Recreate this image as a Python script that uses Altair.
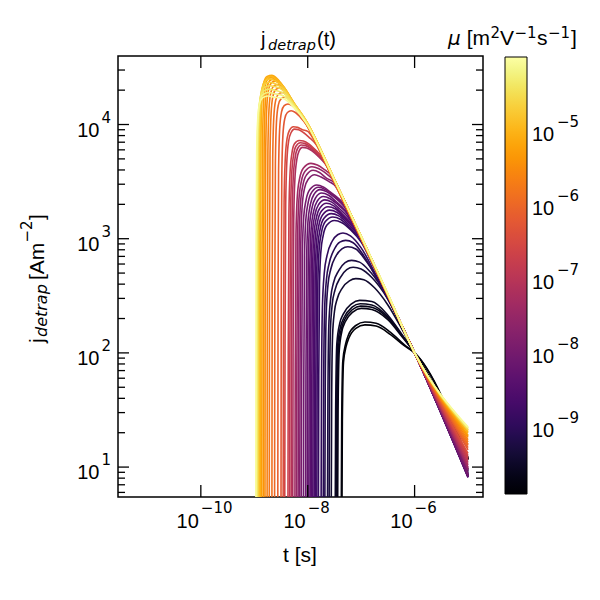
import altair as alt
import pandas as pd

# ---------------- axis ranges / ticks ----------------
X_DOMAIN = [10 ** -11.55, 10 ** -4.72]
Y_DOMAIN = [10 ** 0.738, 10 ** 4.6]
MU_DOMAIN = [1.17e-10, 9.4e-5]

X_TICKS = [1e-10, 1e-8, 1e-6]
X_TICK_EXP = ["\u221210", "\u22128", "\u22126"]
Y_TICKS = [10, 100, 1000, 10000]
Y_TICK_EXP = ["1", "2", "3", "4"]
Y_MINOR = [6, 7, 8, 9, 20, 30, 40, 50, 60, 70, 80, 90,
           200, 300, 400, 500, 600, 700, 800, 900,
           2000, 3000, 4000, 5000, 6000, 7000, 8000, 9000, 20000, 30000]
MU_TICKS = [1e-9, 1e-8, 1e-7, 1e-6, 1e-5]
MU_TICK_EXP = ["\u22129", "\u22128", "\u22127", "\u22126", "\u22125"]
MU_MINOR = [m * 10.0 ** e for e in (-10, -9, -8, -7, -6, -5) for m in (2, 3, 4, 5, 6, 7, 8, 9)]

# ---------------- curves: (log10 mu, [(log10 t, log10 j), ...]) ----------------
BLACK = [
    (-9.90, [(-7.36, 0.6), (-7.352, 1.4), (-7.33, 1.92), (-7.28, 2.06), (-7.23, 2.13), (-7.1, 2.215), (-6.93, 2.245), (-6.72, 2.235), (-6.45, 2.16), (-6.2, 2.065), (-6.0, 2.0), (-5.0, 1.06)]),
    (-9.83, [(-7.372, 0.6), (-7.364, 1.4), (-7.343, 1.93), (-7.29, 2.08), (-7.24, 2.155), (-7.1, 2.24), (-6.93, 2.27), (-6.72, 2.26), (-6.45, 2.18), (-6.2, 2.075), (-6.0, 2.0), (-5.0, 1.07)]),
    (-9.72, [(-7.44, 0.6), (-7.432, 1.5), (-7.41, 2.02), (-7.36, 2.19), (-7.3, 2.27), (-7.15, 2.36), (-7.0, 2.39), (-6.8, 2.38), (-6.5, 2.29), (-6.25, 2.15), (-6.0, 2.0), (-5.0, 1.08)]),
    (-9.68, [(-7.455, 0.6), (-7.447, 1.5), (-7.425, 2.04), (-7.37, 2.21), (-7.31, 2.29), (-7.16, 2.38), (-7.01, 2.41), (-6.8, 2.40), (-6.5, 2.305), (-6.25, 2.16), (-6.0, 2.0), (-5.0, 1.08)]),
    (-9.63, [(-7.47, 0.6), (-7.462, 1.5), (-7.44, 2.06), (-7.385, 2.23), (-7.32, 2.31), (-7.17, 2.40), (-7.02, 2.43), (-6.8, 2.42), (-6.5, 2.315), (-6.25, 2.165), (-6.0, 2.0), (-5.0, 1.075)]),
    (-9.57, [(-7.485, 0.6), (-7.477, 1.5), (-7.455, 2.08), (-7.4, 2.26), (-7.335, 2.34), (-7.18, 2.43), (-7.03, 2.46), (-6.8, 2.45), (-6.5, 2.33), (-6.25, 2.17), (-6.0, 2.0), (-5.0, 1.07)]),
]
DARK = [
    (-9.45, [(-7.56, 0.6), (-7.552, 1.6), (-7.535, 2.15), (-7.5, 2.36), (-7.45, 2.47), (-7.35, 2.57), (-7.22, 2.63), (-7.1, 2.65), (-6.95, 2.64), (-6.75, 2.57), (-6.5, 2.42), (-6.25, 2.22), (-6.0, 2.0), (-5.0, 0.98)]),
    (-9.36, [(-7.6, 0.6), (-7.592, 1.6), (-7.575, 2.2), (-7.54, 2.43), (-7.49, 2.55), (-7.39, 2.66), (-7.27, 2.73), (-7.15, 2.75), (-7.0, 2.735), (-6.8, 2.66), (-6.5, 2.47), (-6.25, 2.24), (-6.0, 2.0), (-5.0, 0.97)]),
    (-9.27, [(-7.63, 0.6), (-7.622, 1.6), (-7.605, 2.24), (-7.57, 2.48), (-7.52, 2.61), (-7.42, 2.72), (-7.3, 2.79), (-7.18, 2.81), (-7.03, 2.795), (-6.83, 2.71), (-6.5, 2.48), (-6.25, 2.245), (-6.0, 2.0), (-5.0, 0.96)]),
    (-9.18, [(-7.68, 0.6), (-7.672, 1.7), (-7.655, 2.33), (-7.62, 2.6), (-7.57, 2.73), (-7.47, 2.85), (-7.36, 2.91), (-7.25, 2.93), (-7.1, 2.91), (-6.9, 2.80), (-6.6, 2.57), (-6.3, 2.29), (-6.0, 2.0), (-5.0, 0.95)]),
    (-9.09, [(-7.71, 0.6), (-7.702, 1.7), (-7.685, 2.36), (-7.65, 2.64), (-7.6, 2.78), (-7.5, 2.91), (-7.4, 2.97), (-7.29, 2.985), (-7.15, 2.965), (-6.95, 2.85), (-6.65, 2.6), (-6.3, 2.295), (-6.0, 2.0), (-5.0, 0.94)]),
    (-9.00, [(-7.75, 0.6), (-7.742, 1.7), (-7.725, 2.4), (-7.69, 2.7), (-7.64, 2.85), (-7.54, 2.98), (-7.44, 3.035), (-7.34, 3.05), (-7.2, 3.025), (-7.0, 2.92), (-6.7, 2.66), (-6.35, 2.34), (-6.0, 2.0), (-5.0, 0.93)]),
]
PURPLE = [
    (-8.93, [(-7.80, 0.6), (-7.793, 1.8), (-7.78, 2.6), (-7.755, 2.88), (-7.71, 3.03), (-7.64, 3.12), (-7.50, 3.16), (-7.36, 3.14), (-7.2, 3.08), (-7.0, 2.97), (-6.75, 2.74), (-6.5, 2.5), (-6.25, 2.25), (-6.0, 2.0), (-5.0, 0.93)]),
    (-8.85, [(-7.83, 0.6), (-7.823, 1.8), (-7.81, 2.62), (-7.785, 2.91), (-7.74, 3.06), (-7.67, 3.15), (-7.53, 3.19), (-7.39, 3.17), (-7.22, 3.1), (-7.0, 2.985), (-6.75, 2.75), (-6.5, 2.5), (-6.25, 2.25), (-6.0, 2.0), (-5.0, 0.925)]),
    (-8.77, [(-7.855, 0.6), (-7.848, 1.8), (-7.835, 2.65), (-7.81, 2.94), (-7.765, 3.09), (-7.695, 3.18), (-7.56, 3.22), (-7.42, 3.2), (-7.25, 3.13), (-7.05, 3.03), (-6.8, 2.8), (-6.5, 2.505), (-6.25, 2.25), (-6.0, 2.0), (-5.0, 0.92)]),
    (-8.68, [(-7.88, 0.6), (-7.873, 1.8), (-7.86, 2.67), (-7.835, 2.97), (-7.79, 3.12), (-7.72, 3.21), (-7.59, 3.25), (-7.45, 3.23), (-7.28, 3.16), (-7.1, 3.07), (-6.85, 2.85), (-6.5, 2.505), (-6.25, 2.25), (-6.0, 2.0), (-5.0, 0.915)]),
    (-8.60, [(-7.905, 0.6), (-7.898, 1.8), (-7.885, 2.7), (-7.86, 3.0), (-7.815, 3.15), (-7.745, 3.24), (-7.62, 3.28), (-7.48, 3.26), (-7.32, 3.19), (-7.15, 3.11), (-6.9, 2.9), (-6.5, 2.505), (-6.25, 2.25), (-6.0, 2.0), (-5.0, 0.915)]),
    (-8.51, [(-7.93, 0.6), (-7.923, 1.8), (-7.91, 2.72), (-7.885, 3.03), (-7.84, 3.18), (-7.77, 3.27), (-7.65, 3.31), (-7.52, 3.29), (-7.36, 3.22), (-7.2, 3.14), (-6.95, 2.95), (-6.5, 2.505), (-6.25, 2.25), (-6.0, 2.0), (-5.0, 0.91)]),
    (-8.43, [(-7.955, 0.6), (-7.948, 1.8), (-7.935, 2.75), (-7.91, 3.06), (-7.865, 3.21), (-7.795, 3.3), (-7.68, 3.34), (-7.55, 3.32), (-7.4, 3.26), (-7.25, 3.19), (-7.0, 3.0), (-6.5, 2.505), (-6.25, 2.25), (-6.0, 2.0), (-5.0, 0.91)]),
    (-8.34, [(-7.98, 0.6), (-7.973, 1.8), (-7.96, 2.78), (-7.935, 3.09), (-7.89, 3.24), (-7.82, 3.33), (-7.71, 3.37), (-7.58, 3.35), (-7.44, 3.3), (-7.3, 3.24), (-7.0, 3.005), (-6.5, 2.505), (-6.25, 2.25), (-6.0, 2.0), (-5.0, 0.915)]),
    (-8.26, [(-8.01, 0.6), (-8.003, 1.8), (-7.99, 2.8), (-7.965, 3.12), (-7.92, 3.27), (-7.85, 3.36), (-7.74, 3.40), (-7.61, 3.38), (-7.48, 3.33), (-7.3, 3.25), (-7.0, 3.01), (-6.5, 2.505), (-6.25, 2.25), (-6.0, 2.0), (-5.0, 0.92)]),
    (-8.17, [(-8.04, 0.6), (-8.033, 1.8), (-8.02, 2.83), (-7.995, 3.15), (-7.95, 3.3), (-7.88, 3.39), (-7.77, 3.43), (-7.64, 3.41), (-7.52, 3.37), (-7.3, 3.27), (-7.0, 3.012), (-6.5, 2.505), (-6.25, 2.25), (-6.0, 2.0), (-5.0, 0.925)]),
    (-8.09, [(-8.08, 0.6), (-8.073, 1.8), (-8.06, 2.85), (-8.035, 3.17), (-7.99, 3.32), (-7.92, 3.41), (-7.80, 3.45), (-7.67, 3.43), (-7.55, 3.39), (-7.3, 3.28), (-7.0, 3.013), (-6.5, 2.505), (-6.25, 2.25), (-6.0, 2.0), (-5.0, 0.93)]),
    (-8.00, [(-8.12, 0.6), (-8.113, 1.8), (-8.1, 2.87), (-8.075, 3.19), (-8.03, 3.34), (-7.96, 3.43), (-7.83, 3.47), (-7.7, 3.45), (-7.58, 3.41), (-7.3, 3.29), (-7.0, 3.015), (-6.5, 2.505), (-6.25, 2.25), (-6.0, 2.0), (-5.0, 0.94)]),
]
MAGENTA = [
    (-7.85, [(-8.15, 0.6), (-8.143, 1.9), (-8.13, 2.95), (-8.105, 3.28), (-8.06, 3.44), (-7.99, 3.52), (-7.87, 3.56), (-7.75, 3.54), (-7.6, 3.5), (-7.5, 3.47), (-7.3, 3.3), (-7.0, 3.016), (-6.5, 2.506), (-6.0, 2.0), (-5.0, 0.97)]),
    (-7.70, [(-8.18, 0.6), (-8.173, 1.9), (-8.16, 2.98), (-8.135, 3.31), (-8.09, 3.47), (-8.02, 3.56), (-7.9, 3.60), (-7.78, 3.58), (-7.65, 3.53), (-7.5, 3.49), (-7.3, 3.305), (-7.0, 3.016), (-6.5, 2.506), (-6.0, 2.0), (-5.0, 0.98)]),
    (-7.55, [(-8.21, 0.6), (-8.203, 1.9), (-8.19, 3.0), (-8.165, 3.34), (-8.12, 3.5), (-8.05, 3.59), (-7.92, 3.63), (-7.8, 3.615), (-7.68, 3.58), (-7.5, 3.5), (-7.3, 3.31), (-7.0, 3.016), (-6.5, 2.506), (-6.0, 2.0), (-5.0, 0.99)]),
    (-7.40, [(-8.24, 0.6), (-8.233, 1.9), (-8.22, 3.03), (-8.195, 3.37), (-8.15, 3.53), (-8.08, 3.62), (-7.94, 3.66), (-7.82, 3.645), (-7.7, 3.61), (-7.55, 3.55), (-7.3, 3.31), (-7.0, 3.016), (-6.5, 2.506), (-6.0, 2.0), (-5.0, 1.0)]),
]
RED = [
    (-7.20, [(-8.28, 0.6), (-8.274, 2.0), (-8.262, 3.15), (-8.24, 3.52), (-8.205, 3.69), (-8.16, 3.77), (-8.10, 3.80), (-8.02, 3.795), (-7.92, 3.77), (-7.8, 3.72), (-7.68, 3.66), (-7.5, 3.51), (-7.0, 3.016), (-6.5, 2.506), (-6.0, 2.0), (-5.0, 1.02)]),
    (-7.05, [(-8.31, 0.6), (-8.304, 2.0), (-8.292, 3.17), (-8.27, 3.54), (-8.235, 3.71), (-8.19, 3.79), (-8.12, 3.82), (-8.04, 3.815), (-7.94, 3.79), (-7.82, 3.74), (-7.7, 3.68), (-7.5, 3.51), (-7.0, 3.016), (-6.5, 2.506), (-6.0, 2.0), (-5.0, 1.04)]),
    (-6.90, [(-8.34, 0.6), (-8.334, 2.0), (-8.322, 3.19), (-8.30, 3.56), (-8.265, 3.73), (-8.22, 3.81), (-8.14, 3.84), (-8.06, 3.835), (-7.96, 3.81), (-7.84, 3.76), (-7.72, 3.7), (-7.5, 3.512), (-7.0, 3.016), (-6.5, 2.506), (-6.0, 2.0), (-5.0, 1.06)]),
    (-6.75, [(-8.37, 0.6), (-8.364, 2.0), (-8.352, 3.21), (-8.33, 3.58), (-8.295, 3.75), (-8.25, 3.83), (-8.16, 3.86), (-8.08, 3.855), (-7.98, 3.83), (-7.86, 3.78), (-7.74, 3.72), (-7.5, 3.512), (-7.0, 3.016), (-6.5, 2.506), (-6.0, 2.0), (-5.0, 1.08)]),
    (-6.60, [(-8.43, 0.6), (-8.424, 2.1), (-8.412, 3.3), (-8.39, 3.68), (-8.355, 3.86), (-8.31, 3.93), (-8.25, 3.96), (-8.17, 3.955), (-8.08, 3.93), (-7.98, 3.89), (-7.85, 3.83), (-7.7, 3.7), (-7.5, 3.514), (-7.0, 3.018), (-6.5, 2.507), (-6.0, 2.0), (-5.0, 1.1)]),
    (-6.45, [(-8.46, 0.6), (-8.454, 2.1), (-8.442, 3.32), (-8.42, 3.70), (-8.385, 3.88), (-8.34, 3.95), (-8.27, 3.98), (-8.19, 3.975), (-8.1, 3.955), (-8.0, 3.94), (-7.9, 3.88), (-7.75, 3.76), (-7.5, 3.514), (-7.0, 3.018), (-6.5, 2.507), (-6.0, 2.0), (-5.0, 1.12)]),
]
ORANGE = [
    (-6.28, [(-8.50, 0.6), (-8.495, 2.5), (-8.485, 3.55), (-8.465, 3.9), (-8.43, 4.05), (-8.38, 4.105), (-8.31, 4.12), (-8.23, 4.105), (-8.14, 4.065), (-8.05, 4.015), (-7.95, 3.94), (-7.5, 3.49), (-7.0, 2.998), (-6.5, 2.499), (-6.0, 2.0), (-5.0, 1.15)]),
    (-6.14, [(-8.56, 0.6), (-8.555, 2.5), (-8.545, 3.6), (-8.525, 3.96), (-8.49, 4.11), (-8.44, 4.165), (-8.37, 4.18), (-8.29, 4.165), (-8.2, 4.12), (-8.1, 4.05), (-8.0, 3.985), (-7.5, 3.492), (-7.0, 2.999), (-6.5, 2.5), (-6.0, 2.0), (-5.0, 1.17)]),
    (-6.02, [(-8.62, 0.6), (-8.615, 2.6), (-8.605, 3.66), (-8.585, 4.02), (-8.55, 4.17), (-8.5, 4.225), (-8.43, 4.24), (-8.35, 4.22), (-8.25, 4.16), (-8.15, 4.09), (-8.04, 4.01), (-7.5, 3.496), (-7.0, 3.002), (-6.5, 2.501), (-6.0, 2.0), (-5.0, 1.19)]),
    (-5.90, [(-8.67, 0.6), (-8.665, 2.6), (-8.655, 3.7), (-8.635, 4.06), (-8.6, 4.21), (-8.55, 4.265), (-8.48, 4.28), (-8.4, 4.26), (-8.3, 4.2), (-8.2, 4.13), (-8.04, 4.015), (-7.5, 3.5), (-7.0, 3.005), (-6.5, 2.503), (-6.0, 2.0), (-5.0, 1.2)]),
    (-5.78, [(-8.72, 0.6), (-8.715, 2.7), (-8.705, 3.74), (-8.685, 4.1), (-8.65, 4.25), (-8.6, 4.305), (-8.53, 4.32), (-8.45, 4.3), (-8.35, 4.245), (-8.26, 4.17), (-8.04, 4.02), (-7.5, 3.504), (-7.0, 3.008), (-6.5, 2.504), (-6.0, 2.0), (-5.0, 1.22)]),
    (-5.66, [(-8.76, 0.6), (-8.755, 2.7), (-8.745, 3.77), (-8.725, 4.13), (-8.69, 4.28), (-8.64, 4.335), (-8.57, 4.35), (-8.5, 4.335), (-8.4, 4.28), (-8.26, 4.175), (-8.04, 4.025), (-7.5, 3.508), (-7.0, 3.011), (-6.5, 2.505), (-6.0, 2.0), (-5.0, 1.24)]),
    (-5.54, [(-8.80, 0.6), (-8.795, 2.8), (-8.785, 3.8), (-8.765, 4.16), (-8.73, 4.31), (-8.68, 4.365), (-8.61, 4.38), (-8.53, 4.36), (-8.45, 4.315), (-8.26, 4.18), (-8.04, 4.03), (-7.5, 3.512), (-7.0, 3.014), (-6.5, 2.507), (-6.0, 2.0), (-5.0, 1.26)]),
    (-5.42, [(-8.83, 0.6), (-8.825, 2.8), (-8.815, 3.83), (-8.795, 4.18), (-8.76, 4.33), (-8.71, 4.385), (-8.64, 4.40), (-8.55, 4.38), (-8.45, 4.32), (-8.26, 4.18), (-8.04, 4.03), (-7.5, 3.512), (-7.0, 3.014), (-6.5, 2.507), (-6.0, 2.0), (-5.0, 1.27)]),
    (-5.30, [(-8.86, 0.6), (-8.855, 2.8), (-8.845, 3.85), (-8.825, 4.2), (-8.79, 4.35), (-8.74, 4.40), (-8.67, 4.415), (-8.57, 4.39), (-8.45, 4.325), (-8.26, 4.185), (-8.04, 4.035), (-7.5, 3.516), (-7.0, 3.017), (-6.5, 2.508), (-6.0, 2.0), (-5.0, 1.28)]),
]
YELLOW = [
    (-5.15, [(-8.89, 0.6), (-8.885, 2.9), (-8.875, 3.9), (-8.855, 4.24), (-8.82, 4.37), (-8.76, 4.42), (-8.67, 4.43), (-8.57, 4.40), (-8.45, 4.33), (-8.26, 4.19), (-8.04, 4.04), (-7.5, 3.52), (-7.0, 3.02), (-6.5, 2.51), (-6.0, 2.0), (-5.0, 1.30)]),
    (-5.00, [(-8.90, 0.6), (-8.895, 2.9), (-8.885, 3.88), (-8.865, 4.22), (-8.83, 4.355), (-8.77, 4.405), (-8.69, 4.42), (-8.59, 4.395), (-8.45, 4.33), (-8.26, 4.19), (-8.04, 4.04), (-7.5, 3.52), (-7.0, 3.02), (-6.5, 2.51), (-6.0, 2.0), (-5.0, 1.31)]),
    (-4.85, [(-8.915, 0.6), (-8.91, 2.9), (-8.9, 3.86), (-8.88, 4.2), (-8.845, 4.335), (-8.785, 4.385), (-8.7, 4.40), (-8.6, 4.38), (-8.45, 4.325), (-8.26, 4.19), (-8.04, 4.04), (-7.5, 3.52), (-7.0, 3.02), (-6.5, 2.512), (-6.0, 2.0), (-5.0, 1.32)]),
    (-4.70, [(-8.93, 0.6), (-8.925, 2.9), (-8.915, 3.84), (-8.895, 4.17), (-8.86, 4.305), (-8.8, 4.355), (-8.71, 4.37), (-8.6, 4.355), (-8.45, 4.31), (-8.26, 4.185), (-8.04, 4.04), (-7.5, 3.52), (-7.0, 3.02), (-6.5, 2.512), (-6.0, 2.0), (-5.0, 1.325)]),
    (-4.55, [(-8.94, 0.6), (-8.935, 2.9), (-8.925, 3.82), (-8.905, 4.14), (-8.87, 4.275), (-8.81, 4.325), (-8.72, 4.34), (-8.6, 4.33), (-8.45, 4.295), (-8.26, 4.18), (-8.04, 4.035), (-7.5, 3.518), (-7.0, 3.02), (-6.5, 2.513), (-6.0, 2.0), (-5.0, 1.33)]),
    (-4.40, [(-8.95, 0.6), (-8.945, 2.9), (-8.935, 3.8), (-8.915, 4.11), (-8.88, 4.245), (-8.82, 4.295), (-8.73, 4.31), (-8.61, 4.30), (-8.45, 4.275), (-8.26, 4.17), (-8.04, 4.03), (-7.5, 3.516), (-7.0, 3.02), (-6.5, 2.514), (-6.0, 2.0), (-5.0, 1.34)]),
    (-4.25, [(-8.96, 0.6), (-8.955, 2.9), (-8.945, 3.78), (-8.925, 4.08), (-8.89, 4.215), (-8.83, 4.265), (-8.74, 4.28), (-8.62, 4.27), (-8.45, 4.25), (-8.26, 4.16), (-8.04, 4.025), (-7.5, 3.514), (-7.0, 3.02), (-6.5, 2.515), (-6.0, 2.0), (-5.0, 1.345)]),
    (-4.10, [(-8.97, 0.6), (-8.965, 2.9), (-8.955, 3.76), (-8.935, 4.05), (-8.9, 4.185), (-8.84, 4.235), (-8.75, 4.25), (-8.63, 4.24), (-8.45, 4.225), (-8.26, 4.15), (-8.04, 4.02), (-7.5, 3.512), (-7.0, 3.02), (-6.5, 2.515), (-6.0, 2.0), (-5.0, 1.35)]),
]

# ---------------- build table (draw low mobility first) ----------------
all_curves = sorted(BLACK + DARK + PURPLE + MAGENTA + RED + ORANGE + YELLOW, key=lambda c: c[0])
rows = []
for cid, (lmu, pts) in enumerate(all_curves):
    for k, (lt, lj) in enumerate(pts):
        rows.append({"cid": cid, "k": k, "t": 10 ** lt, "j": 10 ** lj, "mu": 10 ** lmu})
df = pd.DataFrame(rows)

W, H = 365, 441
MAIN = "Liberation Sans"
SUPF = "DejaVu Sans"

xs = alt.Scale(type="log", domain=X_DOMAIN, nice=False)
ys = alt.Scale(type="log", domain=Y_DOMAIN, nice=False)
cs = alt.Scale(type="log", domain=MU_DOMAIN, range=[438, 1], nice=False)

grid_axis = dict(labels=False, ticks=False, tickSize=0, domain=False, grid=True,
                 gridColor="#808080", gridWidth=1, gridOpacity=1, title=None)

curves = alt.Chart(df).mark_line(clip=True, strokeWidth=1.6, interpolate="monotone").encode(
    x=alt.X("t:Q", scale=xs, axis=alt.Axis(values=X_TICKS, **grid_axis)),
    y=alt.Y("j:Q", scale=ys, axis=alt.Axis(values=Y_TICKS, **grid_axis)),
    color=alt.Color("mu:Q",
                    scale=alt.Scale(type="log", domain=MU_DOMAIN, scheme="inferno"),
                    legend=alt.Legend(orient="none", legendX=387, legendY=1, direction="vertical",
                                      gradientLength=437, gradientThickness=22, title=None,
                                      labelExpr="''", labelFontSize=1, labelOpacity=0,
                                      gradientStrokeColor="black",
                                      gradientStrokeWidth=1, padding=0, values=MU_TICKS)),
    detail="cid:N",
    order="k:Q",
)


def yrule(vals, x0, x1, scale=ys):
    return alt.Chart(pd.DataFrame({"v": vals})).mark_rule(color="black", strokeWidth=1.3).encode(
        y=alt.Y("v:Q", scale=scale, axis=None), x=alt.value(x0), x2=alt.value(x1))


def xrule(vals, y0, y1):
    return alt.Chart(pd.DataFrame({"v": vals})).mark_rule(color="black", strokeWidth=1.3).encode(
        x=alt.X("v:Q", scale=xs, axis=None), y=alt.value(y0), y2=alt.value(y1))


xlab_df = pd.DataFrame({"v": X_TICKS, "e": X_TICK_EXP})
ylab_df = pd.DataFrame({"v": Y_TICKS, "e": Y_TICK_EXP})
cblab_df = pd.DataFrame({"v": MU_TICKS, "e": MU_TICK_EXP})

xlab10 = alt.Chart(xlab_df).mark_text(align="right", baseline="alphabetic", dx=-2, fontSize=20,
                                      font=MAIN, color="black").encode(
    x=alt.X("v:Q", scale=xs, axis=None), y=alt.value(472), text=alt.value("10"))
xlabe = alt.Chart(xlab_df).mark_text(align="left", baseline="alphabetic", dx=0, fontSize=15,
                                     font=SUPF, color="black").encode(
    x=alt.X("v:Q", scale=xs, axis=None), y=alt.value(457), text="e:N")
ylab10 = alt.Chart(ylab_df).mark_text(align="right", baseline="alphabetic", dy=12, fontSize=20,
                                      font=MAIN, color="black").encode(
    y=alt.Y("v:Q", scale=ys, axis=None), x=alt.value(-18.5), text=alt.value("10"))
ylabe = alt.Chart(ylab_df).mark_text(align="right", baseline="alphabetic", dy=-2, fontSize=15,
                                     font=SUPF, color="black").encode(
    y=alt.Y("v:Q", scale=ys, axis=None), x=alt.value(-7), text="e:N")

main = alt.layer(
    curves,
    yrule(Y_TICKS, 0, 11), yrule(Y_TICKS, W - 11, W),
    yrule(Y_MINOR, 0, 7), yrule(Y_MINOR, W - 7, W),
    xrule(X_TICKS, H, H - 12), xrule(X_TICKS, 0, 12),
    xlab10, xlabe, ylab10, ylabe,
)

cb_lab10 = alt.Chart(cblab_df).mark_text(align="left", baseline="alphabetic", dy=12, fontSize=20,
                                         font=MAIN, color="black").encode(
    y=alt.Y("v:Q", scale=cs, axis=None), x=alt.value(414), text=alt.value("10"))
cb_labe = alt.Chart(cblab_df).mark_text(align="left", baseline="alphabetic", dy=-2, fontSize=15,
                                        font=SUPF, color="black").encode(
    y=alt.Y("v:Q", scale=cs, axis=None), x=alt.value(439), text="e:N")
cbar = alt.layer(
    yrule(MU_TICKS, 398, 409, scale=cs),
    yrule(MU_MINOR, 403, 409, scale=cs),
    cb_lab10, cb_labe,
)


def txt(s, x, y, size, font=MAIN, style="normal", angle=0, align="left"):
    return alt.Chart(alt.Data(values=[{}])).mark_text(
        fontSize=size, font=font, fontStyle=style, angle=angle, align=align,
        baseline="alphabetic", color="black").encode(
        x=alt.value(x), y=alt.value(y), text=alt.value(s))


texts = [
    # title  j_detrap(t)
    txt("j", 143, -10, 20),
    txt("detrap", 150, -6.5, 14.5, font=SUPF, style="italic"),
    txt("(t)", 199, -10, 20),
    # x title
    txt("t [s]", 182, 506, 21, align="center"),
    # y title  j_detrap [Am^-2]
    txt("j", -74, 287, 21, angle=270),
    txt("detrap", -71, 281, 16, font=SUPF, style="italic", angle=270),
    txt("[Am", -74, 224, 21, angle=270),
    txt("\u22122", -86, 186.5, 15, font=SUPF, angle=270),
    txt("]", -74, 164, 21, angle=270),
    # colorbar title  mu [m^2 V^-1 s^-1]
    txt("\u03bc", 330, -11, 20, font=SUPF, style="italic"),
    txt("[m", 348.7, -11, 21),
    txt("2", 372.5, -18, 15, font=SUPF),
    txt("V", 382, -11, 21),
    txt("\u22121", 396.5, -18, 15, font=SUPF),
    txt("s", 419, -11, 21),
    txt("\u22121", 430, -18, 15, font=SUPF),
    txt("]", 453, -11, 21),
]

chart = alt.layer(main, cbar, *texts).resolve_scale(y="independent").properties(
    width=W, height=H,
    padding={"left": 110, "top": 48, "right": 100, "bottom": 80},
    autosize=alt.AutoSizeParams(type="none"),
).configure_view(stroke="black", strokeWidth=1.5)

chart.save("out.html", embed_options={"renderer": "svg", "actions": False})
